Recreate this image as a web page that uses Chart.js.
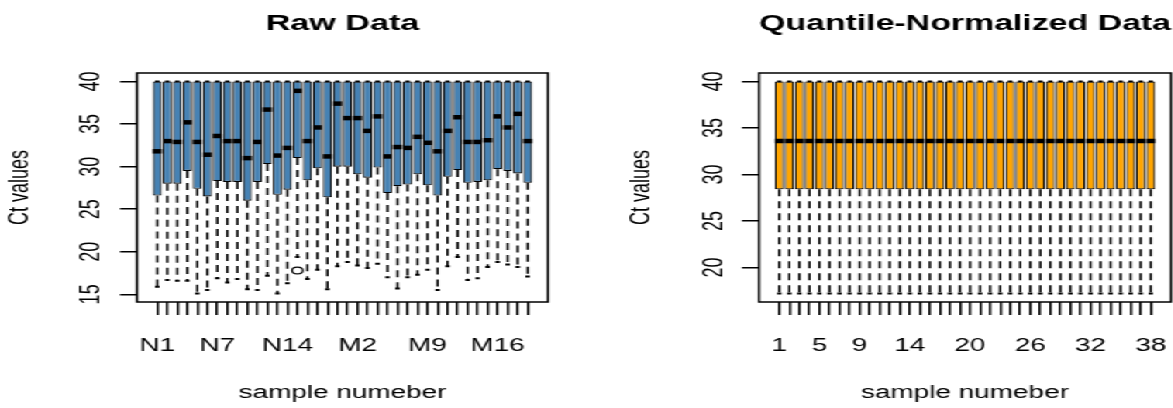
<!DOCTYPE html>
<html>
<head>
<meta charset="utf-8">
<script src="https://cdn.jsdelivr.net/npm/chart.js@4.4.0/dist/chart.umd.min.js"></script>
<style>
  html, body { margin: 0; padding: 0; background: #fff; overflow: hidden; }
  /* the reference picture is a horizontally stretched R plot, so the pair of charts is stretched the same way */
  #wrap { position: relative; width: 789px; height: 408px; transform: scaleX(1.55); transform-origin: 0 0; }
  #rawChart { position: absolute; left: 0; top: 0; }
  #normChart { position: absolute; left: 379px; top: 0; }
</style>
</head>
<body>
<div id="wrap">
  <canvas id="rawChart" width="379" height="408"></canvas>
  <canvas id="normChart" width="410" height="408"></canvas>
</div>
<script>
// ---- Raw Data ----
const rawSamples = ['N1','N2','N3','N4','N5','N6','N7','N8','N9','N10','N11','N12','N13','N14','N15','N16','N17','N18','N19',
  'M1','M2','M3','M4','M5','M6','M7','M8','M9','M10','M11','M12','M13','M14','M15','M16','M17','M18','M19'];
const rawShownLabels = ['N1','N7','N14','M2','M9','M16'];
const rawMin = [15.9,16.7,16.6,16.6,15.1,15.5,16.9,16.4,16.8,15.6,15.5,17.2,15.1,16.3,19.4,16.8,17.9,15.6,18.3,
  18.8,18.4,18.1,18.6,17.0,15.7,17.0,17.3,17.9,15.5,18.3,19.4,16.7,16.9,18.2,18.8,18.5,18.2,17.1];
const rawQ1 = [26.6,28.0,28.0,29.5,27.4,26.5,28.3,28.2,28.2,26.0,28.2,30.3,26.7,27.3,31.0,28.4,29.8,26.4,30.0,
  30.0,29.1,28.7,29.9,26.9,27.7,27.9,29.1,27.8,26.6,28.8,29.6,28.1,28.2,28.4,29.7,29.5,29.2,28.1];
const rawMedian = [31.8,33.0,32.9,35.2,32.9,31.4,33.6,33.0,33.0,31.0,32.9,36.7,31.3,32.2,38.9,33.0,34.6,31.2,37.4,
  35.7,35.7,34.2,35.9,31.2,32.3,32.2,33.5,32.8,31.8,34.2,35.8,32.9,32.9,33.1,35.9,34.6,36.2,33.0];
const rawQ3 = [40,40,40,40,40,40,40,40,40,40,40,40,40,40,40,40,40,40,40,
  40,40,40,40,40,40,40,40,40,40,40,40,40,40,40,40,40,40,40];
const rawMax = [40,40,40,40,40,40,40,40,40,40,40,40,40,40,40,40,40,40,40,
  40,40,40,40,40,40,40,40,40,40,40,40,40,40,40,40,40,40,40];
const rawOutlierSamples = ['N15'];
const rawOutlierValues = [17.8];
const rawYTicks = [15, 20, 25, 30, 35, 40];

// ---- Quantile-Normalized Data ----
const normSamples = ['1','2','3','4','5','6','7','8','9','10','11','12','13','14','15','16','17','18','19',
  '20','21','22','23','24','25','26','27','28','29','30','31','32','33','34','35','36','37','38'];
const normShownLabels = ['1','5','9','14','20','26','32','38'];
const normMin = [17.2,17.2,17.2,17.2,17.2,17.2,17.2,17.2,17.2,17.2,17.2,17.2,17.2,17.2,17.2,17.2,17.2,17.2,17.2,
  17.2,17.2,17.2,17.2,17.2,17.2,17.2,17.2,17.2,17.2,17.2,17.2,17.2,17.2,17.2,17.2,17.2,17.2,17.2];
const normQ1 = [28.4,28.4,28.4,28.4,28.4,28.4,28.4,28.4,28.4,28.4,28.4,28.4,28.4,28.4,28.4,28.4,28.4,28.4,28.4,
  28.4,28.4,28.4,28.4,28.4,28.4,28.4,28.4,28.4,28.4,28.4,28.4,28.4,28.4,28.4,28.4,28.4,28.4,28.4];
const normMedian = [33.6,33.6,33.6,33.6,33.6,33.6,33.6,33.6,33.6,33.6,33.6,33.6,33.6,33.6,33.6,33.6,33.6,33.6,33.6,
  33.6,33.6,33.6,33.6,33.6,33.6,33.6,33.6,33.6,33.6,33.6,33.6,33.6,33.6,33.6,33.6,33.6,33.6,33.6];
const normQ3 = [40,40,40,40,40,40,40,40,40,40,40,40,40,40,40,40,40,40,40,
  40,40,40,40,40,40,40,40,40,40,40,40,40,40,40,40,40,40,40];
const normMax = [40,40,40,40,40,40,40,40,40,40,40,40,40,40,40,40,40,40,40,
  40,40,40,40,40,40,40,40,40,40,40,40,40,40,40,40,40,40,40];
const normOutlierSamples = [];
const normOutlierValues = [];
const normYTicks = [20, 25, 30, 35, 40];

Chart.defaults.font.family = '"Liberation Sans", Arial, Helvetica, sans-serif';
Chart.defaults.font.size = 18;
Chart.defaults.color = '#000';

// R widens the data range by 4% on each side
function extendRange(lo, hi) {
  const d = (hi - lo) * 0.04;
  return [lo - d, hi + d];
}

// medians, dashed whiskers, staples, outliers and the plot frame
function makeBoxExtras(cfg) {
  return {
    id: 'boxExtras',
    afterDatasetsDraw(chart) {
      const { ctx, chartArea } = chart;
      const y = chart.scales.y;
      const bars = chart.getDatasetMeta(0).data;
      ctx.save();
      ctx.strokeStyle = '#000';
      bars.forEach((bar, i) => {
        const cx = bar.x, w = bar.width;
        const yMin = y.getPixelForValue(cfg.min[i]);
        const yQ1 = y.getPixelForValue(cfg.q1[i]);
        const yMed = y.getPixelForValue(cfg.median[i]);
        const yQ3 = y.getPixelForValue(cfg.q3[i]);
        const yMax = y.getPixelForValue(cfg.max[i]);

        ctx.lineWidth = 1.5;
        ctx.setLineDash([7, 5]);
        ctx.beginPath();
        ctx.moveTo(cx, yQ1); ctx.lineTo(cx, yMin);
        ctx.moveTo(cx, yQ3); ctx.lineTo(cx, yMax);
        ctx.stroke();
        ctx.setLineDash([]);

        ctx.lineWidth = 2;
        ctx.beginPath();
        ctx.moveTo(cx - w / 4, yMin); ctx.lineTo(cx + w / 4, yMin);
        ctx.moveTo(cx - w / 4, yMax); ctx.lineTo(cx + w / 4, yMax);
        ctx.stroke();

        ctx.lineWidth = 4.5;
        ctx.beginPath();
        ctx.moveTo(cx - w / 2, yMed); ctx.lineTo(cx + w / 2, yMed);
        ctx.stroke();
      });

      ctx.lineWidth = 1.2;
      cfg.outlierSamples.forEach((s, k) => {
        const bar = bars[cfg.labels.indexOf(s)];
        ctx.beginPath();
        ctx.arc(bar.x, y.getPixelForValue(cfg.outlierValues[k]), 3.4, 0, Math.PI * 2);
        ctx.stroke();
      });

      ctx.lineWidth = 1.5;
      ctx.strokeRect(chartArea.left, chartArea.top, chartArea.width, chartArea.height);
      ctx.restore();
    }
  };
}

function boxChart(canvasId, cfg) {
  const [yLo, yHi] = extendRange(Math.min(...cfg.min, ...cfg.outlierValues), Math.max(...cfg.max));
  const [xLo, xHi] = extendRange(0.5, cfg.labels.length + 0.5);
  return new Chart(document.getElementById(canvasId), {
    type: 'bar',
    data: {
      datasets: [{
        data: cfg.q1.map((q, i) => ({ x: i + 1, y: [q, cfg.q3[i]] })),
        backgroundColor: cfg.color,
        borderColor: '#000',
        borderWidth: 1.1,
        borderSkipped: false,
        barPercentage: 0.9,
        categoryPercentage: 1
      }]
    },
    options: {
      responsive: false,
      animation: false,
      layout: { padding: { left: cfg.padLeft, right: cfg.padRight, top: 0, bottom: 0 } },
      plugins: {
        legend: { display: false },
        tooltip: { enabled: false },
        title: {
          display: true,
          text: cfg.title,
          fullSize: false,
          color: '#000',
          font: { size: 22, weight: 'bold' },
          padding: { top: 10.7, bottom: 35.9 }
        }
      },
      scales: {
        x: {
          type: 'linear',
          min: xLo,
          max: xHi,
          offset: false,
          grid: { offset: false, drawOnChartArea: false, drawTicks: true, tickLength: 13, color: '#000', lineWidth: 1.5 },
          border: { display: false },
          afterBuildTicks: s => { s.ticks = cfg.labels.map((l, i) => ({ value: i + 1 })); },
          ticks: {
            autoSkip: false, minRotation: 0, maxRotation: 0, padding: 20,
            callback: (v, i) => cfg.shown.includes(cfg.labels[i]) ? cfg.labels[i] : ''
          },
          title: { display: true, text: 'sample numeber', color: '#000', padding: { top: 0, bottom: 4.2 } },
          afterFit: s => { s.height = 106; }
        },
        y: {
          min: yLo,
          max: yHi,
          grid: { drawOnChartArea: false, drawTicks: true, tickLength: 11, color: '#000', lineWidth: 1.5 },
          border: { display: false },
          ticks: { minRotation: 90, maxRotation: 90, crossAlign: 'center', padding: 8 },
          afterBuildTicks: s => { s.ticks = cfg.yTicks.map(v => ({ value: v })); },
          title: { display: true, text: 'Ct values', color: '#000', padding: { top: 2.4, bottom: 0 } },
          afterFit: s => { s.width = 88.4; }
        }
      }
    },
    plugins: [makeBoxExtras(cfg)]
  });
}

boxChart('rawChart', {
  title: 'Raw Data', color: '#4682B4',
  labels: rawSamples, shown: rawShownLabels,
  min: rawMin, q1: rawQ1, median: rawMedian, q3: rawQ3, max: rawMax,
  outlierSamples: rawOutlierSamples, outlierValues: rawOutlierValues,
  yTicks: rawYTicks, padLeft: 0, padRight: 25.5
});

boxChart('normChart', {
  title: 'Quantile-Normalized Data', color: '#FFA500',
  labels: normSamples, shown: normShownLabels,
  min: normMin, q1: normQ1, median: normMedian, q3: normQ3, max: normMax,
  outlierSamples: normOutlierSamples, outlierValues: normOutlierValues,
  yTicks: normYTicks, padLeft: 22.3, padRight: 33.5
});
</script>
</body>
</html>
